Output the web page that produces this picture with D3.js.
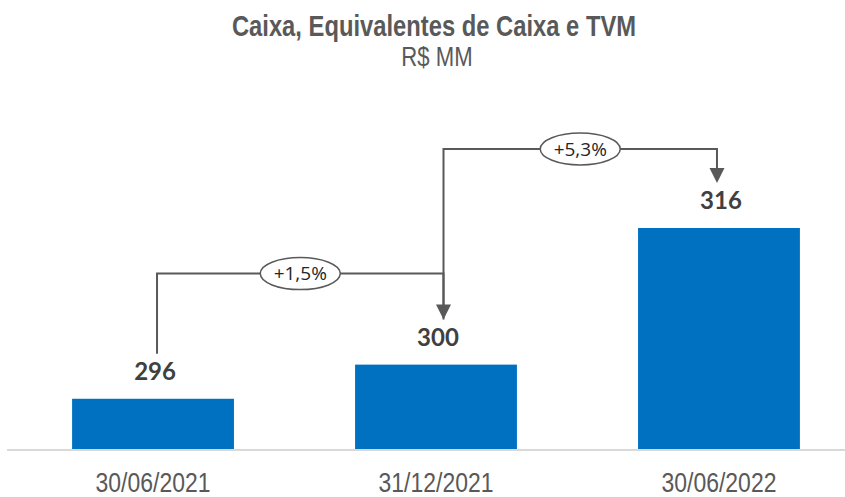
<!DOCTYPE html>
<html>
<head>
<meta charset="utf-8">
<script src="https://cdn.jsdelivr.net/npm/d3@7"></script>
<style>
  body { margin: 0; background: #fff; }
  svg { display: block; }
</style>
</head>
<body>
<script>
// dados
const categorias = ['30/06/2021', '31/12/2021', '30/06/2022'];
const valores = [296, 300, 316];
const rotulos = ['296', '300', '316'];
// variações entre períodos
const varDe = [0, 1];
const varPara = [1, 2];
const varTexto = ['+1,5%', '+5,3%'];

const width = 845, height = 497;
// fonte "narrow": Liberation Sans comprimida na horizontal
const sans = "'Liberation Sans', Arial, sans-serif";
const aperto = 0.82;
const azul = '#0070C0';
const cinza = '#595959';

const svg = d3.select('body').append('svg')
    .attr('width', width)
    .attr('height', height);

// titulo
svg.append('text')
    .attr('transform', `translate(434,36) scale(${aperto},1)`)
    .attr('text-anchor', 'middle')
    .style('font-family', sans)
    .style('font-weight', 'bold')
    .style('font-size', '29px')
    .style('fill', cinza)
    .text('Caixa, Equivalentes de Caixa e TVM');

svg.append('text')
    .attr('transform', `translate(437,66) scale(${aperto},1)`)
    .attr('text-anchor', 'middle')
    .style('font-family', sans)
    .style('font-size', '27px')
    .style('fill', cinza)
    .text('R$ MM');

// escalas
const x = d3.scaleBand()
    .domain(categorias)
    .range([15.5, 856.5])
    .paddingInner(0.428)
    .paddingOuter(0.2);

const y = d3.scaleLinear()
    .domain([290, 316])
    .range([450, 228]);

// barras
svg.append('g')
    .selectAll('rect')
    .data(valores)
    .join('rect')
    .attr('x', (d, i) => x(categorias[i]))
    .attr('y', d => y(d))
    .attr('width', x.bandwidth())
    .attr('height', d => y.range()[0] - y(d))
    .attr('fill', azul);

// linha base
svg.append('line')
    .attr('x1', 7).attr('x2', width)
    .attr('y1', 450).attr('y2', 450)
    .attr('stroke', '#d9d9d9')
    .attr('stroke-width', 2);

// eixo x (só os textos)
const eixo = svg.append('g')
    .attr('transform', 'translate(0,450)')
    .call(d3.axisBottom(x).tickSize(0).tickPadding(0));
eixo.select('.domain').remove();
eixo.selectAll('text')
    .attr('dy', null)
    .attr('y', 42)
    .attr('transform', `scale(${aperto},1)`)
    .style('font-family', sans)
    .style('font-size', '28px')
    .style('fill', cinza);

// rotulos dos valores
const cx = i => x(categorias[i]) + x.bandwidth() / 2;
svg.append('g')
    .selectAll('text')
    .data(valores)
    .join('text')
    .attr('x', (d, i) => cx(i) + 2)
    .attr('y', d => y(d) - 19)
    .attr('text-anchor', 'middle')
    .style('font-family', 'Lato, "Open Sans", sans-serif')
    .style('font-weight', 'bold')
    .style('font-size', '24px')
    .style('fill', '#404040')
    .text((d, i) => rotulos[i]);

// conectores de variação
const subida = [91, 79];
const dxDe = [4, 7.5];
const dxPara = [7.5, -2];
varTexto.forEach((t, k) => {
    const x0 = cx(varDe[k]) + dxDe[k];
    const x1 = cx(varPara[k]) + dxPara[k];
    const y0 = y(valores[varDe[k]]) - 45;
    const topo = y(valores[varPara[k]]) - subida[k];
    const ponta = y(valores[varPara[k]]) - 45;

    svg.append('path')
        .attr('d', `M${x0},${y0}V${topo}H${x1}V${ponta - 14}`)
        .attr('fill', 'none')
        .attr('stroke', cinza)
        .attr('stroke-width', 2);

    svg.append('path')
        .attr('d', `M${x1 - 7.5},${ponta - 15}L${x1 + 7.5},${ponta - 15}L${x1},${ponta}Z`)
        .attr('fill', cinza);

    const mx = (x0 + x1) / 2;
    svg.append('ellipse')
        .attr('cx', mx).attr('cy', topo)
        .attr('rx', 40).attr('ry', 16)
        .attr('fill', '#fff')
        .attr('stroke', cinza)
        .attr('stroke-width', 1.5);

    svg.append('text')
        .attr('x', mx).attr('y', topo)
        .attr('dy', '0.36em')
        .attr('text-anchor', 'middle')
        .style('font-family', '"Open Sans", sans-serif')
        .style('font-size', '19px')
        .style('fill', '#262626')
        .text(t);
});
</script>
</body>
</html>
